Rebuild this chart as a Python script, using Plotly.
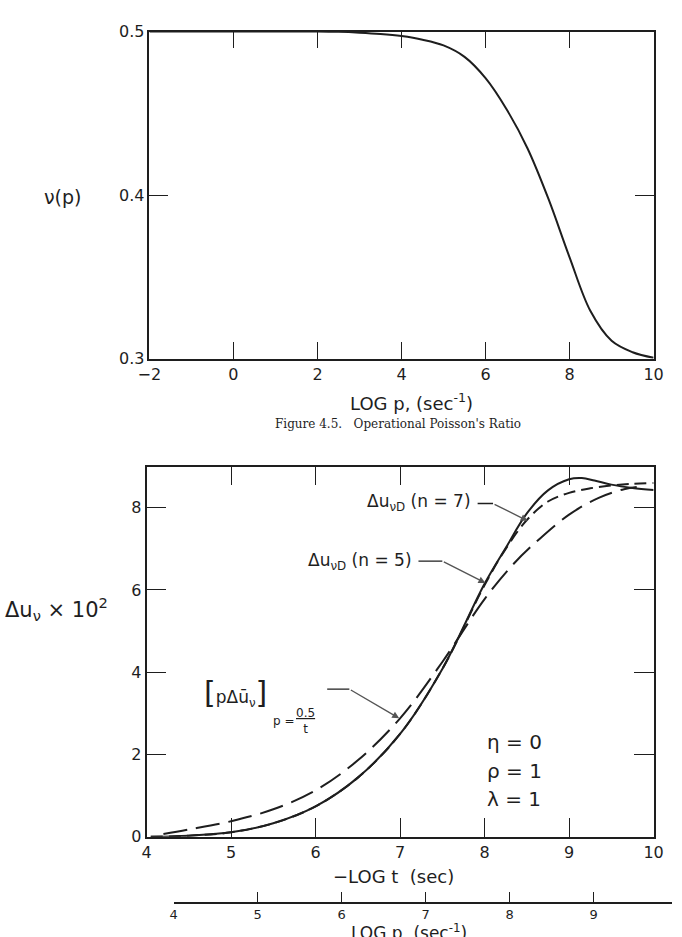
import plotly.graph_objects as go

# ---- Figure 4.5 : operational Poisson's ratio ----
logp = [-2, 0, 2, 2.5, 3, 3.5, 4, 4.5, 5, 5.5, 6, 6.5, 7, 7.5, 8, 8.5, 9, 9.5, 10]
nu_p = [0.5, 0.5, 0.5, 0.4998, 0.4993, 0.4985, 0.4972, 0.495, 0.4915, 0.4845,
        0.4715, 0.4525, 0.4285, 0.3975, 0.362, 0.329, 0.311, 0.304, 0.3006]

# ---- lower chart : Delta u_nu x 10^2 vs -LOG t ----
t_solid = [4.05, 4.5, 5.0, 5.5, 6.0, 6.5, 7.0, 7.5, 8.0, 8.25, 8.5,
           8.75, 9.0, 9.15, 9.3, 9.5, 9.75, 10.0]
u_solid = [0.0, 0.03, 0.11, 0.33, 0.74, 1.44, 2.5, 4.08, 6.15, 7.02, 7.86,
           8.42, 8.69, 8.72, 8.66, 8.56, 8.48, 8.43]

t_short = [4.05, 4.5, 5.0, 5.5, 6.0, 6.5, 7.0, 7.5, 8.0, 8.25, 8.5,
           8.75, 9.0, 9.25, 9.5, 9.75, 10.0]
u_short = [0.0, 0.03, 0.11, 0.33, 0.74, 1.44, 2.5, 4.08, 6.12, 7.0, 7.7,
           8.15, 8.36, 8.47, 8.54, 8.58, 8.6]

t_long = [4.2, 4.5, 5.0, 5.5, 6.0, 6.5, 7.0, 7.5, 8.0, 8.35, 8.65,
          9.0, 9.35, 9.65, 9.8]
u_long = [0.07, 0.18, 0.38, 0.67, 1.13, 1.86, 2.88, 4.25, 5.78, 6.65,
          7.24, 7.83, 8.24, 8.45, 8.5]

top_xticks = [-2, 0, 2, 4, 6, 8, 10]
top_yticks = [0.3, 0.4, 0.5]
bot_xticks = [4, 5, 6, 7, 8, 9, 10]
bot_yticks = [0, 2, 4, 6, 8]
p_ticks = [4, 5, 6, 7, 8, 9, 10]

W, H = 682, 937
INK = "#1e1e1e"
FONT = "DejaVu Sans"

def px(x):
    return x / W

def py(y):
    return (H - y) / H

fig = go.Figure()
fig.add_trace(go.Scatter(x=logp, y=nu_p, mode="lines", line=dict(color=INK, width=2),
                         xaxis="x", yaxis="y", line_shape="spline", showlegend=False))
fig.add_trace(go.Scatter(x=t_long, y=u_long, mode="lines", line_shape="spline",
                         line=dict(color=INK, width=2, dash="24px,9px"),
                         xaxis="x2", yaxis="y2", showlegend=False))
fig.add_trace(go.Scatter(x=t_short, y=u_short, mode="lines", line_shape="spline",
                         line=dict(color=INK, width=2, dash="12px,6px"),
                         xaxis="x2", yaxis="y2", showlegend=False))
fig.add_trace(go.Scatter(x=t_solid, y=u_solid, mode="lines", line_shape="spline",
                         line=dict(color=INK, width=2),
                         xaxis="x2", yaxis="y2", showlegend=False))
# carrier for the secondary LOG p scale below the lower chart
fig.add_trace(go.Scatter(x=[4, 9.9], y=[None, None], mode="lines", xaxis="x3", yaxis="y2",
                         showlegend=False, hoverinfo="skip"))

axis_common = dict(showgrid=False, zeroline=False, showline=True, linecolor=INK,
                   linewidth=1.6, mirror="ticks", ticks="inside", tickcolor=INK,
                   tickwidth=1.4, tickfont=dict(family=FONT, size=16, color=INK))

fig.update_layout(
    width=W, height=H, autosize=False,
    margin=dict(l=0, r=0, t=0, b=0),
    paper_bgcolor="white", plot_bgcolor="rgba(0,0,0,0)",
    xaxis=dict(domain=[px(142), px(663)], range=[-2, 10], anchor="y",
               tickvals=top_xticks, ticklen=17, **axis_common),
    yaxis=dict(domain=[py(357), py(23)], range=[0.3, 0.5], anchor="x",
               tickvals=top_yticks, ticktext=["0.3", "0.4", "0.5"], ticklen=19,
               **axis_common),
    xaxis2=dict(domain=[px(139), px(663)], range=[4, 10], anchor="y2",
                tickvals=bot_xticks, ticklen=19, **axis_common),
    yaxis2=dict(domain=[py(845), py(467)], range=[0, 9], anchor="x2",
                tickvals=bot_yticks, ticklen=20, **axis_common),
    xaxis3=dict(domain=[px(167), 1.0], range=[4, 4 + (W - 167) / 86.8],
                anchor="free", position=py(912), side="bottom",
                showgrid=False, zeroline=False, showline=True, linecolor=INK,
                linewidth=1.6, ticks="inside", ticklen=10, tickwidth=1.4,
                tickcolor=INK, tickvals=p_ticks,
                tickfont=dict(family=FONT, size=13, color=INK)),
)

ann = []
def text(x, y, s, size=16, xanchor="center", yanchor="middle", xref="paper",
         yref="paper", family=FONT):
    ann.append(dict(x=x, y=y, xref=xref, yref=yref, text=s, showarrow=False,
                    xanchor=xanchor, yanchor=yanchor,
                    font=dict(family=family, size=size, color=INK)))

# titles
text(px(53), py(192), "ν(p)", size=19)
text(px(413), py(401), "LOG p, (sec<sup>-1</sup>)", size=18)
text(px(399), py(424), "Figure 4.5.   Operational Poisson's Ratio", size=12,
     family="DejaVu Serif")
text(px(101), py(612), "Δu<sub>ν</sub> × 10<sup>2</sup>", size=21, xanchor="right")
text(px(394), py(885), "−LOG t  (sec)", size=18)
text(px(410), py(929), "LOG p  (sec<sup>-1</sup>)", size=17, yanchor="top")

# curve labels on the lower chart
text(7.86, 8.12, "Δu<sub>νD</sub> (n = 7)", size=17, xanchor="right", xref="x2", yref="y2")
text(7.17, 6.7, "Δu<sub>νD</sub> (n = 5)", size=17, xanchor="right", xref="x2", yref="y2")
text(5.05, 3.52, "<span style='font-size:30px'>[</span>pΔū<sub>ν</sub><span style='font-size:30px'>]</span>",
     size=17, xref="x2", yref="y2")
text(5.47, 2.82, "p =", size=12, xref="x2", yref="y2", xanchor="left")
text(5.88, 2.82, "<u>0.5</u><br>t", size=12, xref="x2", yref="y2")
text(8.0, 2.3, "η = 0", size=20, xanchor="left", xref="x2", yref="y2")
text(8.0, 1.6, "ρ = 1", size=20, xanchor="left", xref="x2", yref="y2")
text(8.0, 0.93, "λ = 1", size=20, xanchor="left", xref="x2", yref="y2")

# leader lines with arrowheads
leaders = [
    ((7.9, 8.1), (8.1, 8.1), (8.51, 7.68)),
    ((7.2, 6.7), (7.5, 6.7), (8.01, 6.17)),
    ((6.12, 3.59), (6.4, 3.59), (6.99, 2.88)),
]
for (x0, y0), (x1, y1), (xt, yt) in leaders:
    ann.append(dict(x=x1, y=y1, ax=x0, ay=y0, xref="x2", yref="y2", axref="x2",
                    ayref="y2", text="", showarrow=True, arrowhead=0,
                    arrowwidth=1.4, arrowcolor=INK))
    ann.append(dict(x=xt, y=yt, ax=x1, ay=y1, xref="x2", yref="y2", axref="x2",
                    ayref="y2", text="", showarrow=True, arrowhead=2, arrowsize=1,
                    arrowwidth=1.4, arrowcolor="#555555"))

fig.update_layout(annotations=ann)
fig.write_html("out.html")
